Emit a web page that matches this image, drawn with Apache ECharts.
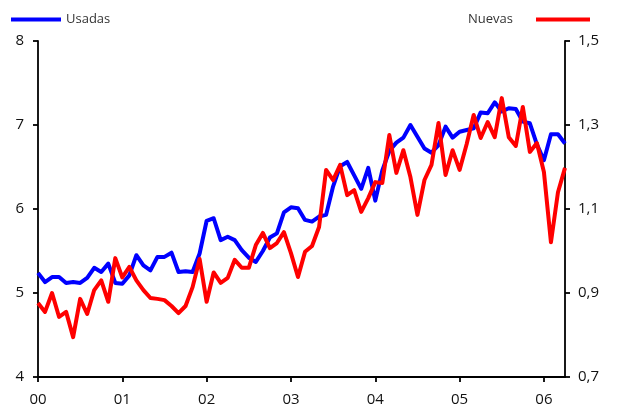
<!DOCTYPE html>
<html><head><meta charset="utf-8">
<script src="https://cdn.jsdelivr.net/npm/echarts@6/dist/echarts.min.js"></script>
<style>html,body{margin:0;padding:0;background:#fff}#c{width:617px;height:413px}</style>
</head><body><div id="c"></div>
<script>
// Years shown on the x axis (monthly data Jan 2000 – Apr 2006)
const years = ['00','01','02','03','04','05','06'];
const monthsInLastYear = 4;

// Usadas (left axis)
const usadas = [
  5.24,5.13,5.19,5.19,5.12,5.13,5.12,5.18,5.30,5.25,5.35,5.12,
  5.11,5.21,5.45,5.33,5.27,5.43,5.43,5.48,5.25,5.26,5.25,5.47,
  5.86,5.89,5.63,5.67,5.63,5.51,5.42,5.37,5.50,5.66,5.71,5.96,
  6.02,6.01,5.87,5.85,5.91,5.93,6.27,6.51,6.56,6.40,6.24,6.49,
  6.10,6.46,6.69,6.79,6.85,7.00,6.86,6.72,6.67,6.76,6.98,6.85,
  6.92,6.94,6.96,7.15,7.14,7.27,7.16,7.20,7.19,7.04,7.02,6.77,
  6.58,6.89,6.89,6.78
];

// Nuevas (right axis)
const nuevas = [
  0.876,0.855,0.900,0.843,0.855,0.795,0.886,0.850,0.907,0.930,0.879,0.983,
  0.937,0.962,0.930,0.907,0.888,0.886,0.883,0.869,0.852,0.869,0.914,0.981,
  0.879,0.949,0.924,0.936,0.979,0.960,0.960,1.014,1.043,1.007,1.019,1.045,
  0.995,0.938,0.998,1.012,1.057,1.193,1.169,1.205,1.133,1.145,1.093,1.126,
  1.164,1.162,1.276,1.186,1.240,1.176,1.086,1.169,1.205,1.305,1.181,1.240,
  1.193,1.254,1.324,1.269,1.307,1.271,1.364,1.271,1.250,1.343,1.236,1.257,
  1.188,1.021,1.140,1.198
];

const leftMin = 4, leftMax = 8, leftStep = 1;
const rightMin = 0.7, rightMax = 1.5, rightStep = 0.2;

const categories = [];
years.forEach((y, yi) => {
  const n = yi === years.length - 1 ? monthsInLastYear : 12;
  for (let m = 1; m <= n; m++) categories.push(y + '-' + (m < 10 ? '0' + m : m));
});

const FONT = '"Open Sans", "Noto Sans", sans-serif';
const axisLineStyle = { color: '#000', width: 1.8 };

const chart = echarts.init(document.getElementById('c'), null, { renderer: 'canvas' });
chart.setOption({
  animation: false,
  backgroundColor: '#fff',
  textStyle: { fontFamily: FONT },
  grid: { left: 38, right: 52, top: 41, bottom: 36, containLabel: false },
  legend: [
    {
      data: ['Usadas'], left: 6, top: 8, icon: 'rect', itemWidth: 50, itemHeight: 4, itemGap: 5,
      textStyle: { fontFamily: FONT, fontSize: 13, color: '#333' }
    },
    {
      data: ['Nuevas'], right: 22, top: 8, align: 'right', icon: 'rect', itemWidth: 54, itemHeight: 4,
      textStyle: { fontFamily: FONT, fontSize: 13, color: '#333', padding: [0, 18, 0, 0] }
    }
  ],
  xAxis: {
    type: 'category', data: categories, boundaryGap: false,
    axisLine: { show: true, lineStyle: axisLineStyle },
    axisTick: { show: true, length: 5, lineStyle: axisLineStyle, interval: (i) => i % 12 === 0 },
    axisLabel: {
      interval: (i) => i % 12 === 0, margin: 15, color: '#111', fontSize: 15, fontFamily: FONT,
      formatter: (v) => v.slice(0, 2)
    },
    splitLine: { show: false }
  },
  yAxis: [
    {
      type: 'value', position: 'left', min: leftMin, max: leftMax, interval: leftStep,
      axisLine: { show: true, lineStyle: axisLineStyle },
      axisTick: { show: true, length: 5, lineStyle: axisLineStyle },
      axisLabel: { margin: 14, color: '#111', fontSize: 15, fontFamily: FONT },
      splitLine: { show: false }
    },
    {
      type: 'value', position: 'right', min: rightMin, max: rightMax, interval: rightStep,
      axisLine: { show: true, lineStyle: axisLineStyle },
      axisTick: { show: true, length: 5, lineStyle: axisLineStyle },
      axisLabel: { margin: 13, color: '#111', fontSize: 15, fontFamily: FONT,
        formatter: (v) => v.toFixed(1).replace('.', ',') },
      splitLine: { show: false }
    }
  ],
  series: [
    {
      name: 'Usadas', type: 'line', yAxisIndex: 0, data: usadas, symbol: 'none',
      lineStyle: { color: '#0000ff', width: 4, join: 'round' }, itemStyle: { color: '#0000ff' }
    },
    {
      name: 'Nuevas', type: 'line', yAxisIndex: 1, data: nuevas, symbol: 'none',
      lineStyle: { color: '#ff0000', width: 4, join: 'round' }, itemStyle: { color: '#ff0000' }
    }
  ]
});
</script></body></html>
